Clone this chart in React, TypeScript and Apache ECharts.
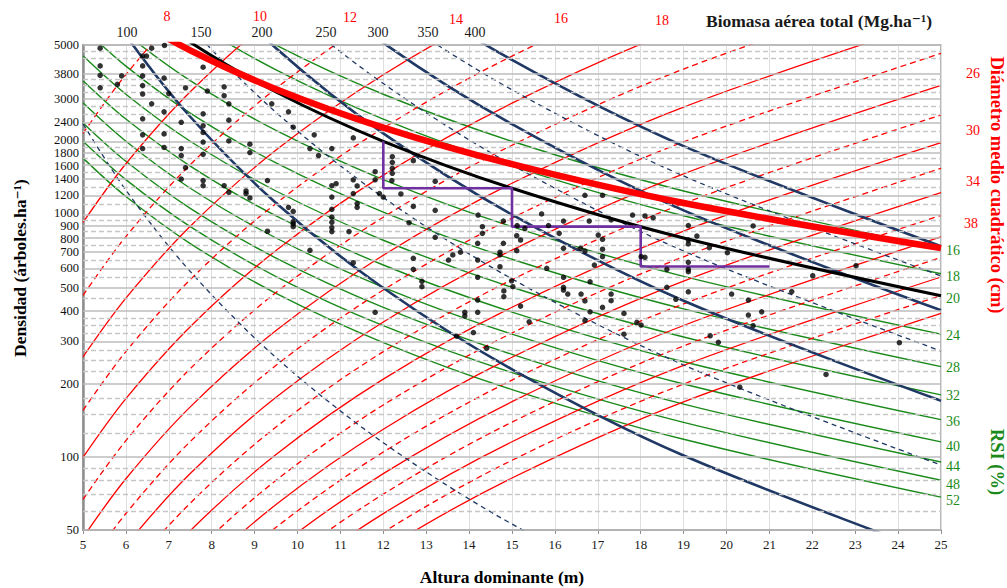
import React, { useEffect, useRef } from "react";
import * as echarts from "echarts";

const SERIF = '"Liberation Serif", "Times New Roman", "DejaVu Serif", serif';

// Dominant heights (m) at which each reference curve is sampled
const H_GRID = [5, 6, 7.5, 9.5, 12, 15, 19, 25];

// Relative spacing index curves (%): density (trees/ha) at each H_GRID height
const RSI_LEVELS = [16, 18, 20, 24, 28, 32, 36, 40, 44, 48, 52];
const RSI_N = [
  [18045, 12530, 8020, 4998, 3132, 2004, 1250, 722],
  [14258, 9900, 6337, 3949, 2475, 1583, 988, 570],
  [11549, 8019, 5133, 3199, 2004, 1283, 800, 462],
  [8020, 5569, 3564, 2221, 1392, 891, 556, 321],
  [5892, 4091, 2619, 1632, 1023, 654, 408, 236],
  [4511, 3133, 2005, 1250, 783, 501, 312.5, 180.4],
  [3564, 2475, 1584, 987, 619, 396, 247, 142.6],
  [2887, 2005, 1283, 800, 501, 321, 200, 115.5],
  [2386, 1657, 1060, 661, 414, 265, 165.3, 95.4],
  [2005, 1392, 891, 555, 348, 222.7, 138.9, 80.2],
  [1708, 1186, 759, 473, 296.5, 189.7, 118.3, 68.3],
];

// Quadratic mean diameter curves (cm): density at each H_GRID height
const DG_LEVELS = [8, 10, 12, 14, 16, 18, 20, 22, 24, 26, 28, 30, 32, 34, 36, 38, 40, 42, 44, 46];
const DG_N = [
  [2161, 3776, 7474, 15410, 31510, null, null, null],
  [927, 1619, 3206, 6612, 13516, 26770, null, null],
  [464, 811, 1605, 3311, 6768, 13400, 27640, null],
  [258.6, 451.8, 894.5, 1845, 3772, 7467, 15400, 35670],
  [155.8, 272.2, 538.9, 1111, 2273, 4500, 9279, 21500],
  [99.65, 174.1, 344.7, 710.9, 1454, 2878, 5935, 13750],
  [66.82, 116.8, 231.2, 476.9, 974.7, 1930, 3980, 9221],
  [46.54, 81.35, 161.0, 332.2, 679.0, 1345, 2772, 6423],
  [33.47, 58.47, 115.8, 238.8, 488.2, 966.5, 1993, 4617],
  [24.7, 43.16, 85.44, 176.2, 360.3, 713.2, 1471, 3407],
  [18.65, 32.59, 64.51, 133.0, 271.9, 538.4, 1110, 2573],
  [14.35, 25.08, 49.65, 102.4, 209.4, 414.5, 854.6, 1980],
  [11.23, 19.63, 38.87, 80.15, 163.9, 324.6, 669.2, 1550],
  [8.925, 15.6, 30.88, 63.69, 130.2, 257.8, 531.6, 1232],
  [7.185, 12.56, 24.86, 51.27, 104.8, 207.6, 428.0, 991.6],
  [5.853, 10.23, 20.25, 41.77, 85.38, 169.1, 348.5, 807.7],
  [null, 8.421, 16.67, 34.38, 70.27, 139.2, 287.0, 664.9],
  [null, 7.0, 13.85, 28.57, 58.41, 115.6, 238.5, 552.4],
  [null, 5.87, 11.61, 23.95, 48.96, 96.94, 199.9, 463.2],
  [null, null, 9.81, 20.23, 41.36, 81.91, 168.9, 391.3],
];

// Total above-ground biomass curves (Mg/ha): density at each H_GRID height
const BIOMASS_LEVELS = [50, 100, 150, 200, 250, 300, 350, 400];
const BIOMASS_N = [
  [2368, 1260, 582.3, 257.0, 114.5, 52.9, 23.36, 9.03],
  [10290, 5474, 2530, 1116, 497.4, 229.9, 101.4, 39.25],
  [24290, 12930, 5972, 2636, 1175, 542.6, 239.6, 92.67],
  [44700, 23780, 10990, 4851, 2161, 998.4, 440.7, 170.5],
  [null, 38150, 17630, 7782, 3467, 1602, 707.1, 273.5],
  [null, null, 25940, 11450, 5102, 2358, 1040, 402.5],
  [null, null, 35960, 15870, 7072, 3268, 1442, 558.0],
  [null, null, 47730, 21060, 9386, 4337, 1914, 740.4],
];

// Maximum density line and lower self-thinning limit (trees/ha at H_GRID)
const MAX_DENSITY_N = [8945, 6732, 4753, 3287, 2283, 1612, 1115, 726.5];
const THINNING_LIMIT_N = [11549, 8019, 5133, 3199, 2004, 1283, 800, 462];

// Thinning schedule (height m, density trees/ha)
const SCHEDULE_H = [12, 12, 15, 15, 18, 18, 21];
const SCHEDULE_N = [2004, 1283, 1283, 891, 891, 610, 610];

// Sample plots: [dominant height m, density trees/ha]
const STAND_PLOTS: [number, number][] = [
  [5.4, 4850], [6.6, 4850], [6.9, 4980], [6.39, 4500], [6.48, 4500], [5.4, 4100], [6.39, 4100],
  [7.8, 4050], [5.4, 3750], [5.9, 3730], [6.39, 3730], [6.89, 3650], [5.8, 3440], [6.39, 3400],
  [5.4, 3330], [7.39, 3330], [8.29, 3360], [6.39, 3140], [7.0, 3150], [7.9, 3230], [8.29, 3090],
  [6.6, 2860], [6.89, 2650], [8.4, 2860], [9.4, 2860], [9.79, 2650], [7.8, 2600], [6.39, 2480],
  [7.29, 2400], [7.8, 2320], [8.4, 2450], [9.9, 2290], [7.8, 2180], [6.39, 2130], [6.89, 2150],
  [8.4, 2010], [10.39, 2130], [7.8, 1990], [8.89, 1950], [6.89, 1890], [6.39, 1870], [7.29, 1870],
  [10.29, 1870], [10.8, 1870], [8.89, 1800], [7.8, 1770], [7.29, 1750], [10.49, 1750], [7.39, 1560],
  [7.29, 1400], [7.8, 1380], [7.8, 1315], [8.29, 1315], [9.3, 1380], [8.4, 1235], [8.8, 1250],
  [8.8, 1220], [8.89, 1170], [10.8, 1315], [10.9, 1340], [10.8, 1180], [9.79, 1070], [9.9, 1030],
  [10.8, 1050], [10.8, 975], [9.9, 934], [9.9, 914], [9.9, 891], [10.8, 929], [10.8, 882],
  [10.8, 850], [9.3, 853], [10.29, 712],
  [11.3, 2070], [12.21, 1731], [12.21, 1642], [12.21, 1550], [12.21, 1479], [12.7, 1667],
  [11.81, 1501], [12.2, 1380], [11.81, 1390], [11.3, 1390], [11.39, 1311], [13.21, 1370],
  [11.3, 1220], [11.91, 1220], [12.41, 1215], [11.39, 1110], [11.39, 1070], [13.21, 1040],
  [12.7, 1080], [12.0, 1180], [11.2, 850], [12.6, 925],
  [14.8, 940], [14.21, 995], [15.69, 1005], [16.2, 940], [16.8, 940], [17.31, 950], [17.81, 995],
  [18.1, 986], [16.7, 1200], [17.11, 1200], [15.12, 900], [15.3, 877], [15.85, 900], [14.31, 891],
  [14.31, 836], [14.2, 761], [13.21, 805], [14.8, 761], [15.11, 818], [15.2, 785], [16.1, 836],
  [17.01, 823], [17.11, 790], [16.2, 725], [16.6, 725], [16.7, 707], [17.11, 719], [17.11, 670],
  [16.92, 619], [18.01, 670], [14.72, 699], [14.72, 681], [15.11, 709], [13.8, 699], [13.62, 681],
  [13.52, 649], [14.2, 649], [12.7, 660], [11.3, 633], [12.7, 594], [14.72, 609], [15.81, 600],
  [16.2, 551], [14.2, 551], [12.9, 530], [14.99, 533], [16.2, 501],
  [18.29, 970], [19.11, 900], [20.62, 897], [19.31, 815], [19.11, 785], [19.11, 756], [19.6, 730],
  [20.02, 696], [18.1, 666], [19.11, 635], [18.61, 594], [19.11, 594], [19.11, 581], [23.02, 615],
  [22.01, 559], [18.61, 501],
  [12.9, 504], [11.81, 395], [14.2, 444], [13.9, 395], [13.9, 382], [14.2, 395], [14.1, 326],
  [13.71, 315], [14.41, 281], [14.81, 484], [14.81, 458], [15.02, 504], [15.2, 419], [15.4, 361],
  [16.2, 488], [16.3, 470], [16.61, 470], [16.82, 528], [16.7, 440], [17.31, 470], [17.31, 441],
  [17.11, 414], [16.82, 397], [16.7, 365], [17.61, 391], [17.91, 359], [18.01, 350], [17.61, 321],
  [18.82, 447], [19.11, 480], [20.12, 470], [20.51, 444], [21.52, 481], [20.51, 385], [20.82, 397],
  [20.62, 348], [19.62, 316], [19.81, 297], [24.03, 296], [22.32, 219], [20.31, 194],
];

// Density axis: labelled ticks (solid grid) and intermediate grid values (dashed)
const Y_TICKS = [50, 100, 200, 300, 400, 500, 600, 700, 800, 900, 1000, 1200, 1400, 1600, 1800, 2000, 2400, 3000, 3800, 5000];
const Y_MINOR = [60, 70, 80, 90, 125, 150, 175, 225, 250, 275, 325, 350, 375, 450, 550, 650, 750, 850, 950,
  1100, 1300, 1500, 1700, 1900, 2200, 2600, 2800, 3200, 3400, 3600, 4400, 4700];

// Curve labels placed around the frame
const DG_TOP_LABELS = ["8", "10", "12", "14", "16", "18"];
const DG_RIGHT_LABELS = ["26", "30", "34", "38"];
const BIOMASS_TOP_LABELS = ["100", "150", "200", "250", "300", "350", "400"];
const RSI_RIGHT_LABELS = ["16", "18", "20", "24", "28", "32", "36", "40", "44", "48", "52"];

// Label placement (px)
const DG_TOP_POS = [[167, 16], [260, 16], [350, 17], [456, 19], [561, 18], [662, 20]];
const DG_RIGHT_POS = [[973, 73], [973, 130], [973, 181], [971, 223]];
const BIOMASS_TOP_POS = [[127, 32], [201, 32], [262, 32], [326, 32], [378, 32], [428, 32], [475, 32]];
const RSI_RIGHT_Y = [250, 276, 298, 335, 367, 395, 421, 446, 466, 484, 500];
const Y_LABEL_FONT = 12.5;
const Y_LABEL_GAP = 13.2;

const RED = "#ff0000";
const GREEN = "#1a8a1a";
const NAVY = "#1f3864";

const curve = (ns: (number | null)[]) =>
  H_GRID.map((h, i) => [h, ns[i]] as [number, number | null]).filter((p) => p[1] !== null);

function lineSeries(ns: (number | null)[], color: string, width: number, dashed: boolean | number[], z: number) {
  return {
    type: "line",
    data: curve(ns),
    showSymbol: false,
    symbol: "none",
    smooth: 0.33,
    silent: true,
    clip: true,
    z,
    lineStyle: {
      color,
      width,
      type: dashed ? (Array.isArray(dashed) ? dashed : [6, 4]) : "solid",
    },
  };
}

// Spread tick-label centres apart so neighbouring labels never collide
function spreadLabels(ys: number[], gap: number): number[] {
  const out = ys.slice();
  const order = out.map((_, i) => i).sort((a, b) => out[a] - out[b]);
  for (let pass = 0; pass < 40; pass++) {
    let moved = false;
    for (let k = 0; k < order.length - 1; k++) {
      const a = order[k];
      const b = order[k + 1];
      const d = out[b] - out[a];
      if (d < gap) {
        const push = (gap - d) / 2 + 0.01;
        out[a] -= push;
        out[b] += push;
        moved = true;
      }
    }
    if (!moved) break;
  }
  return out;
}

export default function App() {
  const ref = useRef<HTMLDivElement>(null);

  useEffect(() => {
    if (!ref.current) return;
    const chart = echarts.init(ref.current, null, { renderer: "svg" });

    const gridMarks = [
      ...Y_TICKS.map((v) => ({ yAxis: v, lineStyle: { color: "#bdbdbd", width: 1.6, type: "solid" } })),
      ...Y_MINOR.map((v) => ({ yAxis: v, lineStyle: { color: "#c6c6c6", width: 1.3, type: [5, 3] } })),
    ];

    const series: any[] = [
      {
        type: "line",
        data: [],
        silent: true,
        z: 1,
        markLine: {
          silent: true,
          symbol: ["none", "none"],
          label: { show: false },
          animation: false,
          data: gridMarks,
        },
      },
      ...RSI_N.map((ns) => lineSeries(ns, GREEN, 1.4, false, 2)),
      ...DG_N.map((ns, i) => lineSeries(ns, RED, 1.3, (DG_LEVELS[i] - 10) % 4 !== 0, 3)),
      ...BIOMASS_N.map((ns, i) =>
        BIOMASS_LEVELS[i] % 100 === 0
          ? lineSeries(ns, NAVY, 2.6, false, 4)
          : lineSeries(ns, NAVY, 1.3, [5, 4], 4)
      ),
      lineSeries(THINNING_LIMIT_N, "#000000", 3, false, 5),
      lineSeries(MAX_DENSITY_N, RED, 6.5, false, 6),
      {
        type: "line",
        data: SCHEDULE_H.map((h, i) => [h, SCHEDULE_N[i]]),
        showSymbol: false,
        symbol: "none",
        silent: true,
        z: 7,
        lineStyle: { color: "#7030a0", width: 2.6 },
      },
      {
        type: "scatter",
        data: STAND_PLOTS,
        symbolSize: 5.5,
        silent: true,
        z: 8,
        itemStyle: { color: "#000000" },
      },
    ];

    chart.setOption({
      animation: false,
      backgroundColor: "#ffffff",
      textStyle: { fontFamily: SERIF },
      grid: {
        left: 83,
        top: 45,
        width: 858,
        height: 485,
        show: true,
        borderColor: "#a3a3a3",
        borderWidth: 1.5,
        backgroundColor: "transparent",
      },
      xAxis: {
        type: "value",
        min: 5,
        max: 25,
        interval: 1,
        axisLine: { show: true, onZero: false, lineStyle: { color: "#8f8f8f", width: 1.5 } },
        axisTick: { show: true, length: 4, lineStyle: { color: "#8f8f8f", width: 1 } },
        axisLabel: { color: "#1a1a1a", fontSize: 13, fontFamily: SERIF, margin: 8 },
        splitLine: { show: true, lineStyle: { color: "#dedede", width: 1 } },
      },
      yAxis: {
        type: "log",
        logBase: 10,
        min: 50,
        max: 5000,
        axisLine: { show: true, lineStyle: { color: "#8f8f8f", width: 2.5 } },
        axisTick: { show: false },
        axisLabel: { show: false },
        splitLine: { show: false },
      },
      series,
    });

    const yPix = (v: number) => (chart.convertToPixel({ gridIndex: 0 }, [5, v]) as number[])[1];
    const txt = (
      text: string,
      x: number,
      y: number,
      font: string,
      fill: string,
      align: string,
      rotation = 0
    ) => ({
      type: "text",
      x,
      y,
      rotation,
      silent: true,
      z: 100,
      style: {
        text,
        fill,
        font,
        textAlign: align,
        align,
        textVerticalAlign: "middle",
        verticalAlign: "middle",
      },
    });

    const tickYs = spreadLabels(Y_TICKS.map(yPix), Y_LABEL_GAP);
    const f14 = `14px ${SERIF}`;
    const elements: any[] = [
      ...Y_TICKS.map((v, i) => txt(String(v), 79, tickYs[i], `${Y_LABEL_FONT}px ${SERIF}`, "#111", "right")),
      ...DG_TOP_LABELS.map((t, i) => txt(t, DG_TOP_POS[i][0], DG_TOP_POS[i][1], f14, RED, "center")),
      ...DG_RIGHT_LABELS.map((t, i) => txt(t, DG_RIGHT_POS[i][0], DG_RIGHT_POS[i][1], f14, RED, "center")),
      ...BIOMASS_TOP_LABELS.map((t, i) => txt(t, BIOMASS_TOP_POS[i][0], BIOMASS_TOP_POS[i][1], f14, "#1a1a1a", "center")),
      ...RSI_RIGHT_LABELS.map((t, i) => txt(t, 946, RSI_RIGHT_Y[i], f14, GREEN, "left")),
      txt("Biomasa aérea total (Mg.ha⁻¹)", 706, 21, `bold 17.5px ${SERIF}`, "#1a1a1a", "left"),
      txt("Altura dominante (m)", 502, 577, `bold 17.5px ${SERIF}`, "#000", "center"),
      txt("Densidad (árboles.ha⁻¹)", 20, 268, `bold 17.5px ${SERIF}`, "#000", "center", Math.PI / 2),
      txt("Diámetro medio cuadrático (cm)", 997, 185, `bold 18.5px ${SERIF}`, RED, "center", -Math.PI / 2),
      txt("RSI (%)", 997, 462, `bold 18.5px ${SERIF}`, GREEN, "center", -Math.PI / 2),
    ];
    chart.setOption({ graphic: { elements } });

    return () => chart.dispose();
  }, []);

  return (
    <div
      ref={ref}
      style={{ position: "fixed", left: 0, top: 0, width: 1007, height: 588, background: "#fff" }}
    />
  );
}
